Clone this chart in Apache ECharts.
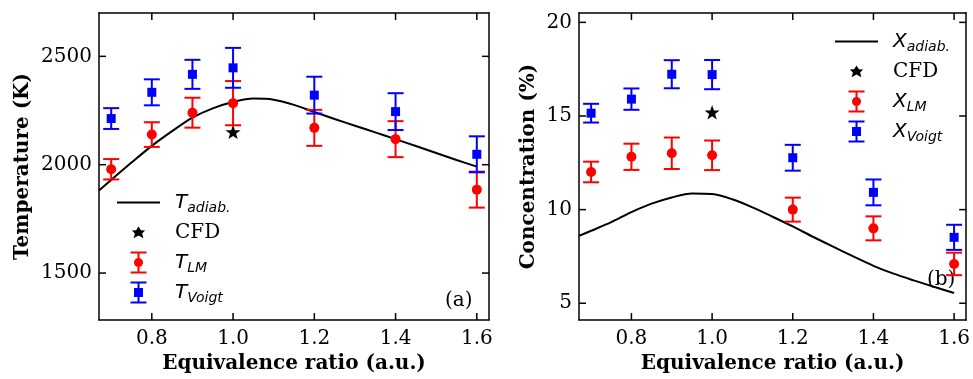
<!DOCTYPE html>
<html>
<head>
<meta charset="utf-8">
<script src="https://cdn.jsdelivr.net/npm/echarts@6/dist/echarts.min.js"></script>
<style>
  html, body { margin: 0; padding: 0; background: #fff; }
  #chart { width: 973px; height: 379px; }
</style>
</head>
<body>
<div id="chart"></div>
<script>
// measured points (equivalence ratio)
const phi = [0.7, 0.8, 0.9, 1.0, 1.2, 1.4, 1.6];

// panel (a) temperature, K
const tVoigt = [2213, 2334, 2417, 2447, 2321, 2245, 2048];
const tVoigtErr = [48, 60, 67, 92, 85, 85, 83];
const tLm = [1979, 2139, 2240, 2284, 2170, 2118, 1885];
const tLmErr = [47, 57, 69, 102, 83, 83, 83];
const cfdPhi = [1.0];
const tCfd = [2151];

// panel (b) concentration, %
const xVoigt = [15.15, 15.9, 17.23, 17.21, 12.77, 10.92, 8.52];
const xVoigtErr = [0.5, 0.57, 0.75, 0.78, 0.69, 0.69, 0.67];
const xLm = [12.01, 12.82, 13.01, 12.9, 10.0, 9.0, 7.1];
const xLmErr = [0.55, 0.7, 0.84, 0.79, 0.64, 0.64, 0.6];
const xCfd = [15.2];

// adiabatic curves
const adiabPhi = [0.67, 0.7, 0.75, 0.8, 0.85, 0.9, 0.95, 1.0, 1.05, 1.1, 1.15, 1.2, 1.25, 1.3, 1.35, 1.4, 1.45, 1.5, 1.55, 1.6];
const tAdiab = [1881, 1930, 2010, 2087, 2155, 2217, 2260, 2289, 2305, 2300, 2276, 2243, 2211, 2180, 2149, 2118, 2086, 2054, 2022, 1991];
const xAdiab = [8.6, 8.87, 9.33, 9.87, 10.32, 10.65, 10.86, 10.83, 10.55, 10.12, 9.62, 9.1, 8.55, 8.02, 7.5, 7.0, 6.58, 6.22, 5.88, 5.55];

// tick labels
const phiTicks = [0.8, 1.0, 1.2, 1.4, 1.6];
const tTicks = [1500, 2000, 2500];
const xTicks = [5, 10, 15, 20];

// axis ranges
const phiMin = 0.67, phiMax = 1.63;
const tMin = 1283, tMax = 2700;
const cMin = 4.1, cMax = 20.5;

const SERIF = 'DejaVu Serif';
const RED = '#ff0000';
const BLUE = '#0000ff';

const starPath = 'path://M12,2L14.35,8.76L21.51,8.91L15.8,13.24L17.88,20.09L12,16L6.12,20.09L8.2,13.24L2.49,8.91L9.65,8.76Z';

// legend icons drawn in a 43x25 box
const box = 'M0,0M43,25';
const iconLine = 'path://' + box + 'M0,11.5h43v2h-43z';
const iconStar = 'path://' + box + 'M21.5,6.5L23.9,10.3L28.1,10.4L25.1,13.6L26.4,18.2L21.5,15.6L16.6,18.2L17.9,13.6L14.9,10.4L19.1,10.3Z';
const bars = 'M13.5,1.5h16v2h-16zM20.5,1.5h2v22h-2zM13.5,21.5h16v2h-16z';
const iconCircle = 'path://' + box + bars + 'M17,12.5a4.5,4.5 0 1,1 9,0a4.5,4.5 0 1,1 -9,0z';
const iconSquare = 'path://' + box + bars + 'M17,8h9v9h-9z';

const pairs = (xs, ys) => xs.map((x, i) => [x, ys[i]]);
const errData = (xs, ys, es) => xs.map((x, i) => [x, ys[i] - es[i], ys[i] + es[i]]);

function errorBars(params, api) {
  const x = api.value(0);
  const lo = api.coord([x, api.value(1)]);
  const hi = api.coord([x, api.value(2)]);
  const w = 8;
  const style = { stroke: api.visual('color'), lineWidth: 2 };
  return {
    type: 'group',
    children: [
      { type: 'line', shape: { x1: hi[0], y1: hi[1], x2: lo[0], y2: lo[1] }, style },
      { type: 'line', shape: { x1: hi[0] - w, y1: hi[1], x2: hi[0] + w, y2: hi[1] }, style },
      { type: 'line', shape: { x1: lo[0] - w, y1: lo[1], x2: lo[0] + w, y2: lo[1] }, style }
    ]
  };
}

// inward ticks on both sides of the frame
const TICK = 7;
const tickLine = { stroke: '#000', lineWidth: 1.5 };
function xTickMarks(params, api) {
  const cs = params.coordSys;
  const px = api.coord([api.value(0), api.value(1)])[0];
  return {
    type: 'group',
    children: [
      { type: 'line', shape: { x1: px, y1: cs.y + cs.height, x2: px, y2: cs.y + cs.height - TICK }, style: tickLine },
      { type: 'line', shape: { x1: px, y1: cs.y, x2: px, y2: cs.y + TICK }, style: tickLine }
    ]
  };
}
function yTickMarks(params, api) {
  const cs = params.coordSys;
  const py = api.coord([api.value(0), api.value(1)])[1];
  return {
    type: 'group',
    children: [
      { type: 'line', shape: { x1: cs.x, y1: py, x2: cs.x + TICK, y2: py }, style: tickLine },
      { type: 'line', shape: { x1: cs.x + cs.width, y1: py, x2: cs.x + cs.width - TICK, y2: py }, style: tickLine }
    ]
  };
}

const labelNames = {
  Tadiab: '{i|T}{s|adiab.}', TLM: '{i|T}{s|LM}', TVoigt: '{i|T}{s|Voigt}',
  Xadiab: '{i|X}{s|adiab.}', XLM: '{i|X}{s|LM}', XVoigt: '{i|X}{s|Voigt}',
  CFD: 'CFD'
};

const legendText = {
  fontFamily: SERIF,
  fontSize: 20,
  color: '#000',
  padding: [0, 0, 0, 10],
  rich: {
    i: { fontFamily: 'DejaVu Sans', fontStyle: 'italic', fontSize: 20, color: '#000' },
    s: { fontFamily: 'DejaVu Sans', fontStyle: 'italic', fontSize: 14, color: '#000', lineHeight: 14, padding: [11, 0, 0, 0] }
  }
};

function legend(left, top, names) {
  return {
    left, top,
    orient: 'vertical',
    itemWidth: 43,
    itemHeight: 25,
    itemGap: 5,
    selectedMode: false,
    textStyle: legendText,
    formatter: n => labelNames[n],
    data: [
      { name: names[0], icon: iconLine },
      { name: 'CFD', icon: iconStar },
      { name: names[1], icon: iconCircle },
      { name: names[2], icon: iconSquare }
    ]
  };
}

const frame = { show: true, lineStyle: { color: '#000', width: 1.5 } };
const labelStyle = { fontFamily: SERIF, fontSize: 20, color: '#000' };
const nameStyle = { fontFamily: SERIF, fontSize: 20, fontWeight: 'bold', color: '#000' };

function xAxes(grid) {
  return [
    {
      type: 'value', gridIndex: grid, min: phiMin, max: phiMax,
      name: 'Equivalence ratio (a.u.)', nameLocation: 'middle', nameGap: 29, nameTextStyle: nameStyle,
      axisLine: frame, splitLine: { show: false }, axisTick: { show: false },
      axisLabel: Object.assign({ customValues: phiTicks, margin: 9, formatter: v => v.toFixed(1) }, labelStyle)
    },
    {
      type: 'value', gridIndex: grid, position: 'top', min: phiMin, max: phiMax,
      axisLine: frame, splitLine: { show: false }, axisTick: { show: false }, axisLabel: { show: false }
    }
  ];
}

function yAxes(grid, min, max, ticks, name, gap) {
  return [
    {
      type: 'value', gridIndex: grid, min, max,
      name, nameLocation: 'middle', nameGap: gap, nameTextStyle: nameStyle,
      axisLine: frame, splitLine: { show: false }, axisTick: { show: false },
      axisLabel: Object.assign({ customValues: ticks, margin: 7, formatter: v => String(v) }, labelStyle)
    },
    {
      type: 'value', gridIndex: grid, position: 'right', min, max,
      axisLine: frame, splitLine: { show: false }, axisTick: { show: false }, axisLabel: { show: false }
    }
  ];
}

function panelSeries(ax, names, adiab, cfd, lm, lmErr, voigt, voigtErr, yMin, yTickVals) {
  return [
    {
      name: names[0] + ' xticks', type: 'custom', xAxisIndex: ax, yAxisIndex: ax, silent: true,
      data: phiTicks.map(v => [v, yMin]), renderItem: xTickMarks, z: 5
    },
    {
      name: names[0] + ' yticks', type: 'custom', xAxisIndex: ax, yAxisIndex: ax, silent: true,
      data: yTickVals.map(v => [phiMin, v]), renderItem: yTickMarks, z: 5
    },
    {
      name: names[0], type: 'line', xAxisIndex: ax, yAxisIndex: ax,
      data: pairs(adiabPhi, adiab), smooth: 0.3, showSymbol: false, symbol: 'none',
      lineStyle: { color: '#000', width: 2 }, itemStyle: { color: '#000' }, z: 2
    },
    {
      name: 'CFD', type: 'scatter', xAxisIndex: ax, yAxisIndex: ax,
      data: pairs(cfdPhi, cfd), symbol: starPath, symbolSize: 15, symbolKeepAspect: true,
      itemStyle: { color: '#000', opacity: 1 }, z: 4
    },
    {
      name: names[1] + ' err', type: 'custom', xAxisIndex: ax, yAxisIndex: ax,
      data: errData(phi, lm, lmErr), renderItem: errorBars,
      encode: { x: 0, y: [1, 2] }, itemStyle: { color: RED }, z: 3
    },
    {
      name: names[1], type: 'scatter', xAxisIndex: ax, yAxisIndex: ax,
      data: pairs(phi, lm), symbol: 'circle', symbolSize: 10,
      itemStyle: { color: RED, opacity: 1 }, z: 4
    },
    {
      name: names[2] + ' err', type: 'custom', xAxisIndex: ax, yAxisIndex: ax,
      data: errData(phi, voigt, voigtErr), renderItem: errorBars,
      encode: { x: 0, y: [1, 2] }, itemStyle: { color: BLUE }, z: 3
    },
    {
      name: names[2], type: 'scatter', xAxisIndex: ax, yAxisIndex: ax,
      data: pairs(phi, voigt), symbol: 'rect', symbolSize: 9,
      itemStyle: { color: BLUE, opacity: 1 }, z: 4
    }
  ];
}

const chart = echarts.init(document.getElementById('chart'), null, { renderer: 'canvas' });

const tNames = ['Tadiab', 'TLM', 'TVoigt'];
const xNames = ['Xadiab', 'XLM', 'XVoigt'];

chart.setOption({
  animation: false,
  backgroundColor: '#fff',
  grid: [
    { left: 99, top: 13, width: 390, height: 310 },
    { left: 579, top: 13, width: 391, height: 310 }
  ],
  xAxis: [...xAxes(0), ...xAxes(1)],
  yAxis: [
    ...yAxes(0, tMin, tMax, tTicks, 'Temperature (K)', 66),
    ...yAxes(1, cMin, cMax, xTicks, 'Concentration (%)', 40)
  ],
  legend: [legend(112, 185, tNames), legend(830, 24, xNames)],
  graphic: [
    { type: 'text', left: 445, top: 291, style: { text: '(a)', font: '20px "DejaVu Serif"', fill: '#000' } },
    { type: 'text', left: 927, top: 270, style: { text: '(b)', font: '20px "DejaVu Serif"', fill: '#000' } }
  ],
  series: [
    ...panelSeries(0, tNames, tAdiab, tCfd, tLm, tLmErr, tVoigt, tVoigtErr, tMin, tTicks),
    ...panelSeries(2, xNames, xAdiab, xCfd, xLm, xLmErr, xVoigt, xVoigtErr, cMin, xTicks)
  ]
});

window.addEventListener('resize', () => chart.resize());
</script>
</body>
</html>
